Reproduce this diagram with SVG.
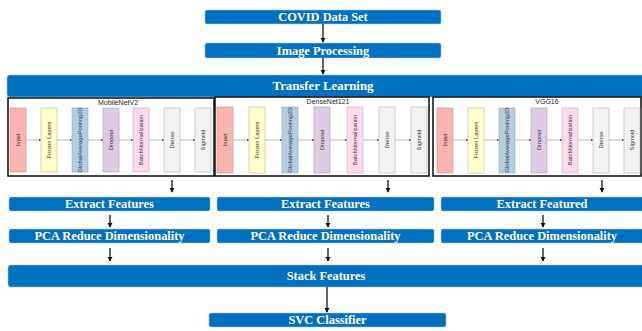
<svg xmlns="http://www.w3.org/2000/svg" width="642" height="331" viewBox="0 0 642 331">
<style>
.b{fill:#0070C0;stroke:#9DC3E6;stroke-width:0.6}
.t{font-family:"Liberation Serif","Times New Roman",serif;font-weight:bold;font-size:12.4px;fill:#fff;text-anchor:middle;dominant-baseline:central}
.fr{fill:#fff;stroke:#1a1a1a;stroke-width:1.6}
.l{stroke:#aaa;stroke-width:0.8}
.lt{font-family:"Liberation Sans",Arial,sans-serif;font-size:5.8px;fill:#333;text-anchor:middle;dominant-baseline:central}
.ti{font-family:"Liberation Sans",Arial,sans-serif;font-size:7px;fill:#222;text-anchor:middle}
.c{stroke:#111;stroke-width:1.3;fill:none}
.in{fill:#F8B4B0;stroke:#c98a86;stroke-width:0.6}
.fz{fill:#FFFFCC;stroke:#b8b88a;stroke-width:0.6}
.gp{fill:#B3CDE3;stroke:#8aa4ba;stroke-width:0.6}
.dr{fill:#DECBE4;stroke:#ad9db3;stroke-width:0.6}
.bn{fill:#FDDAEC;stroke:#c9a8b9;stroke-width:0.6}
.de{fill:#F2F2F2;stroke:#b0b0b0;stroke-width:0.6}
</style>
<defs>
<marker id="ah" viewBox="0 0 6 6" refX="5" refY="3" markerWidth="4" markerHeight="4" orient="auto"><path d="M0,0 L6,3 L0,6 z" fill="#111"/></marker>
<marker id="sa" viewBox="0 0 6 6" refX="5" refY="3" markerWidth="3" markerHeight="3" orient="auto"><path d="M0,0 L6,3 L0,6 z" fill="#555"/></marker>
</defs>

<g id="covid"><rect class="b" x="205" y="10" width="236" height="14" rx="2"/><text class="t" x="323" y="17">COVID Data Set</text></g>
<g id="imgproc"><rect class="b" x="205" y="43" width="236" height="15" rx="2"/><text class="t" x="323" y="50.5">Image Processing</text></g>
<g id="transfer"><rect class="b" x="7" y="75" width="645" height="22" rx="3"/><text class="t" x="323" y="86" style="font-size:12.8px">Transfer Learning</text></g>

<g id="mobilenet">
<rect class="fr" x="8" y="98" width="206" height="78"/>
<text class="ti" x="118" y="104.5">MobileNetV2</text>
<g class="l"><line x1="26" y1="140" x2="41" y2="140" marker-end="url(#sa)"/><line x1="57" y1="140" x2="72" y2="140" marker-end="url(#sa)"/><line x1="88" y1="140" x2="103" y2="140" marker-end="url(#sa)"/><line x1="119" y1="140" x2="133" y2="140" marker-end="url(#sa)"/><line x1="149" y1="140" x2="164" y2="140" marker-end="url(#sa)"/><line x1="180" y1="140" x2="195" y2="140" marker-end="url(#sa)"/></g>
<rect class="in" x="10" y="108" width="16" height="64"/><text class="lt" transform="translate(18,140) rotate(-90)">Input</text>
<rect class="fz" x="41" y="108" width="16" height="64"/><text class="lt" transform="translate(49,140) rotate(-90)">Frozen Layers</text>
<rect class="gp" x="72" y="108" width="16" height="64"/><text class="lt" transform="translate(80,140) rotate(-90)">GlobalAveragePooling2D</text>
<rect class="dr" x="103" y="108" width="16" height="64"/><text class="lt" transform="translate(111,140) rotate(-90)">Dropout</text>
<rect class="bn" x="133" y="108" width="16" height="64"/><text class="lt" transform="translate(141,140) rotate(-90)">BatchNormalization</text>
<rect class="de" x="164" y="108" width="16" height="64"/><text class="lt" transform="translate(172,140) rotate(-90)">Dense</text>
<rect class="de" x="195" y="108" width="16" height="64"/><text class="lt" transform="translate(203,140) rotate(-90)">Sigmoid</text>
</g>

<g id="densenet">
<rect class="fr" x="215" y="97" width="214" height="79"/>
<text class="ti" x="328" y="103.5">DenseNet121</text>
<g class="l"><line x1="233" y1="140" x2="249" y2="140" marker-end="url(#sa)"/><line x1="265" y1="140" x2="282" y2="140" marker-end="url(#sa)"/><line x1="298" y1="140" x2="314" y2="140" marker-end="url(#sa)"/><line x1="330" y1="140" x2="347" y2="140" marker-end="url(#sa)"/><line x1="363" y1="140" x2="379" y2="140" marker-end="url(#sa)"/><line x1="395" y1="140" x2="411" y2="140" marker-end="url(#sa)"/></g>
<rect class="in" x="217" y="107" width="16" height="66"/><text class="lt" transform="translate(225,140) rotate(-90)">Input</text>
<rect class="fz" x="249" y="107" width="16" height="66"/><text class="lt" transform="translate(257,140) rotate(-90)">Frozen Layers</text>
<rect class="gp" x="282" y="107" width="16" height="66"/><text class="lt" transform="translate(290,140) rotate(-90)">GlobalAveragePooling2D</text>
<rect class="dr" x="314" y="107" width="16" height="66"/><text class="lt" transform="translate(322,140) rotate(-90)">Dropout</text>
<rect class="bn" x="347" y="107" width="16" height="66"/><text class="lt" transform="translate(355,140) rotate(-90)">BatchNormalization</text>
<rect class="de" x="379" y="107" width="16" height="66"/><text class="lt" transform="translate(387,140) rotate(-90)">Dense</text>
<rect class="de" x="411" y="107" width="16" height="66"/><text class="lt" transform="translate(419,140) rotate(-90)">Sigmoid</text>
</g>

<g id="vgg16">
<rect class="fr" x="433" y="97" width="208" height="79"/>
<text class="ti" x="547" y="103.5">VGG16</text>
<g class="l"><line x1="453" y1="140" x2="468" y2="140" marker-end="url(#sa)"/><line x1="484" y1="140" x2="499" y2="140" marker-end="url(#sa)"/><line x1="515" y1="140" x2="531" y2="140" marker-end="url(#sa)"/><line x1="547" y1="140" x2="562" y2="140" marker-end="url(#sa)"/><line x1="578" y1="140" x2="593" y2="140" marker-end="url(#sa)"/><line x1="609" y1="140" x2="624" y2="140" marker-end="url(#sa)"/></g>
<rect class="in" x="437" y="108" width="16" height="65"/><text class="lt" transform="translate(445,140) rotate(-90)">Input</text>
<rect class="fz" x="468" y="108" width="16" height="65"/><text class="lt" transform="translate(476,140) rotate(-90)">Frozen Layers</text>
<rect class="gp" x="499" y="108" width="16" height="65"/><text class="lt" transform="translate(507,140) rotate(-90)">GlobalAveragePooling2D</text>
<rect class="dr" x="531" y="108" width="16" height="65"/><text class="lt" transform="translate(539,140) rotate(-90)">Dropout</text>
<rect class="bn" x="562" y="108" width="16" height="65"/><text class="lt" transform="translate(570,140) rotate(-90)">BatchNormalization</text>
<rect class="de" x="593" y="108" width="16" height="65"/><text class="lt" transform="translate(601,140) rotate(-90)">Dense</text>
<rect class="de" x="624" y="108" width="16" height="65"/><text class="lt" transform="translate(632,140) rotate(-90)">Sigmoid</text>
</g>

<g id="ef1"><rect class="b" x="9" y="197" width="201" height="14" rx="2"/><text class="t" x="109.5" y="204">Extract Features</text></g>
<g id="ef2"><rect class="b" x="217" y="197" width="217" height="14" rx="2"/><text class="t" x="325.5" y="204">Extract Features</text></g>
<g id="ef3"><rect class="b" x="441" y="197" width="210" height="14" rx="2"/><text class="t" x="542" y="204">Extract Featured</text></g>
<g id="pca1"><rect class="b" x="9" y="229" width="201" height="14" rx="2"/><text class="t" x="109.5" y="236">PCA Reduce Dimensionality</text></g>
<g id="pca2"><rect class="b" x="217" y="229" width="217" height="14" rx="2"/><text class="t" x="325.5" y="236">PCA Reduce Dimensionality</text></g>
<g id="pca3"><rect class="b" x="441" y="229" width="210" height="14" rx="2"/><text class="t" x="542" y="236">PCA Reduce Dimensionality</text></g>
<g id="stack"><rect class="b" x="8" y="265" width="645" height="22" rx="3"/><text class="t" x="326" y="276">Stack Features</text></g>
<g id="svc"><rect class="b" x="209" y="313" width="237" height="14" rx="2"/><text class="t" x="327.5" y="320">SVC Classifier</text></g>

<g id="connectors">
<line class="c" x1="323" y1="24" x2="323" y2="42" marker-end="url(#ah)"/>
<line class="c" x1="323" y1="58" x2="323" y2="74" marker-end="url(#ah)"/>
<line class="c" x1="172" y1="180" x2="172" y2="192" marker-end="url(#ah)"/>
<line class="c" x1="388" y1="180" x2="388" y2="192" marker-end="url(#ah)"/>
<line class="c" x1="602" y1="180" x2="602" y2="192" marker-end="url(#ah)"/>
<line class="c" x1="110" y1="215" x2="110" y2="227" marker-end="url(#ah)"/>
<line class="c" x1="328" y1="215" x2="328" y2="227" marker-end="url(#ah)"/>
<line class="c" x1="543" y1="215" x2="543" y2="227" marker-end="url(#ah)"/>
<line class="c" x1="110" y1="248" x2="110" y2="261" marker-end="url(#ah)"/>
<line class="c" x1="328" y1="248" x2="328" y2="261" marker-end="url(#ah)"/>
<line class="c" x1="543" y1="248" x2="543" y2="261" marker-end="url(#ah)"/>
<line class="c" x1="327" y1="287" x2="327" y2="312" marker-end="url(#ah)"/>
</g>
</svg>
